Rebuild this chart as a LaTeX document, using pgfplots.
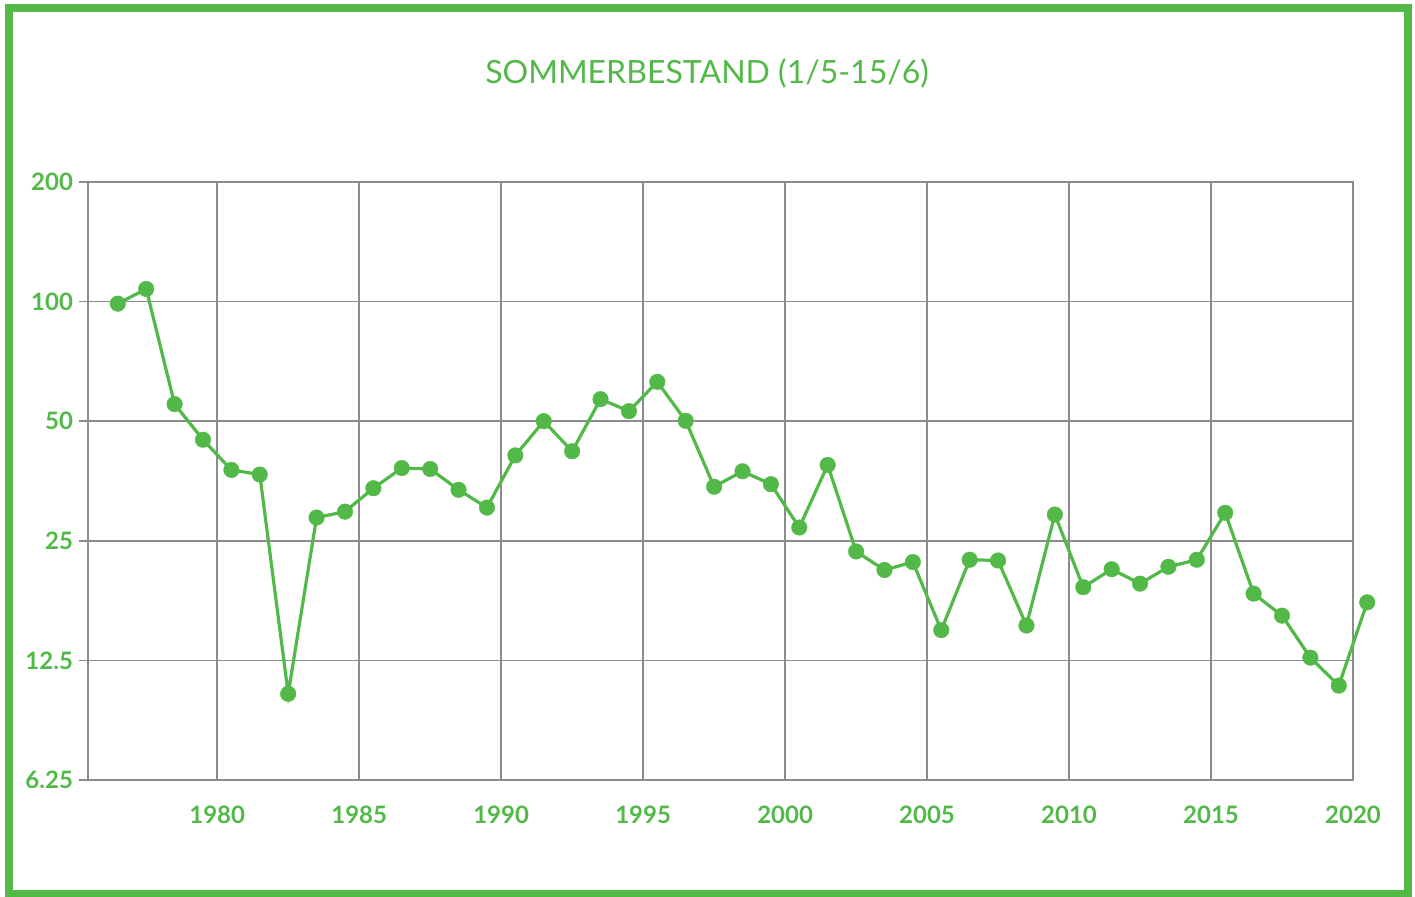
\documentclass[border=0pt]{standalone}
\usepackage{pgfplots}
\pgfplotsset{compat=1.18}
\usepackage{fontspec}
\setmainfont{Lato}
\definecolor{dgreen}{RGB}{82,185,72}
\definecolor{gridgray}{RGB}{140,140,140}
% x = year - 1970 (plotted at mid-year)
\pgfplotstableread{
year val
6.5 98.8
7.5 107.6
8.5 55.2
9.5 44.9
10.5 37.7
11.5 36.7
12.5 10.3
13.5 28.6
14.5 29.6
15.5 33.9
16.5 38.1
17.5 37.9
18.5 33.6
19.5 30.3
20.5 41.0
21.5 50.0
22.5 42.0
23.5 56.8
24.5 53.0
25.5 62.8
26.5 50.1
27.5 34.2
28.5 37.4
29.5 34.7
30.5 27.0
31.5 38.8
32.5 23.5
33.5 21.1
34.5 22.1
35.5 14.9
36.5 22.4
37.5 22.3
38.5 15.3
39.5 29.1
40.5 19.1
41.5 21.2
42.5 19.5
43.5 21.5
44.5 22.4
45.5 29.4
46.5 18.4
47.5 16.2
48.5 12.7
49.5 10.8
50.5 17.5
}\datatable
\begin{document}
\begin{tikzpicture}
\useasboundingbox (0,0) rectangle (707.5pt,448.5pt);
\draw[dgreen, line width=4pt] (4.25pt,1.25pt) rectangle (703.75pt,444.5pt);
\node[text=dgreen, font=\fontsize{16}{19}\selectfont] at (353.5pt,412pt) {SOMMERBESTAND (1/5-15/6)};
\begin{axis}[
  at={(44pt,58.5pt)}, anchor=south west,
  scale only axis, width=632.5pt, height=299pt,
  xmin=5.45, xmax=50,
  ymode=log, log basis y=2,
  ymin=6.25, ymax=200,
  ytick={6.25,12.5,25,50,100,200},
  yticklabels={6.25,12.5,25,50,100,200},
  xtick={10,15,20,25,30,35,40,45,50},
  xticklabels={1980,1985,1990,1995,2000,2005,2010,2015,2020},
  ytick pos=left,
  grid=major,
  grid style={gridgray, line width=0.75pt},
  axis line style={gridgray, line width=0.75pt},
  tick align=outside,
  major tick length=4.5pt,
  ytick style={gridgray, line width=0.75pt},
  xtick style={draw=none},
  tick label style={text=dgreen, font=\fontsize{12}{14}\selectfont\bfseries},
  xticklabel style={yshift=-5pt},
  yticklabel style={xshift=0.5pt},
  clip=false,
]
\addplot[dgreen, line width=1.6pt, mark=*, mark size=3.9pt, mark options={fill=dgreen, draw=dgreen, line width=0.2pt}] table[x=year, y=val] {\datatable};
\end{axis}
\end{tikzpicture}
\end{document}
